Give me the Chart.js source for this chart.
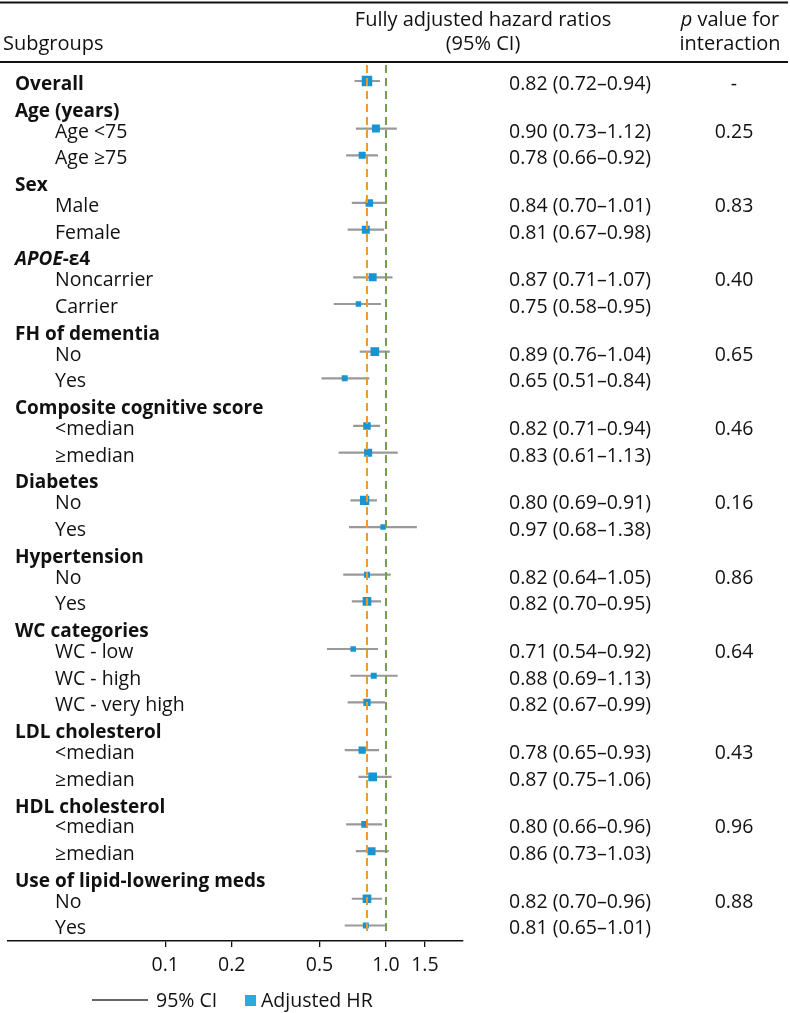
<!DOCTYPE html>
<html>
<head>
    <title>Subgroup hazard ratios</title>
    <style>
        html, body { margin: 0; padding: 0; background: #fff; }
        #wrap { position: relative; width: 790px; height: 1013px; }
    </style>
</head>
<body>
    <div id="wrap"><canvas id="forest"></canvas></div>

    <script src="https://cdn.jsdelivr.net/npm/chart.js"></script>
    <script>
        // table rows, top to bottom (1 = bold group row)
        const rowLabels = ['Overall', 'Age (years)', 'Age <75', 'Age ≥75', 'Sex', 'Male', 'Female',
            'APOE-ε4', 'Noncarrier', 'Carrier', 'FH of dementia', 'No', 'Yes',
            'Composite cognitive score', '<median', '≥median', 'Diabetes', 'No', 'Yes',
            'Hypertension', 'No', 'Yes', 'WC categories', 'WC - low', 'WC - high', 'WC - very high',
            'LDL cholesterol', '<median', '≥median', 'HDL cholesterol', '<median', '≥median',
            'Use of lipid-lowering meds', 'No', 'Yes'];
        const headerRow = [1, 1, 0, 0, 1, 0, 0, 1, 0, 0, 1, 0, 0, 1, 0, 0, 1, 0, 0,
            1, 0, 0, 1, 0, 0, 0, 1, 0, 0, 1, 0, 0, 1, 0, 0];

        const hr = [0.82, null, 0.90, 0.78, null, 0.84, 0.81, null, 0.87, 0.75, null, 0.89, 0.65,
            null, 0.82, 0.83, null, 0.80, 0.97, null, 0.82, 0.82, null, 0.71, 0.88, 0.82,
            null, 0.78, 0.87, null, 0.80, 0.86, null, 0.82, 0.81];
        const ciLow = [0.72, null, 0.73, 0.66, null, 0.70, 0.67, null, 0.71, 0.58, null, 0.76, 0.51,
            null, 0.71, 0.61, null, 0.69, 0.68, null, 0.64, 0.70, null, 0.54, 0.69, 0.67,
            null, 0.65, 0.75, null, 0.66, 0.73, null, 0.70, 0.65];
        const ciHigh = [0.94, null, 1.12, 0.92, null, 1.01, 0.98, null, 1.07, 0.95, null, 1.04, 0.84,
            null, 0.94, 1.13, null, 0.91, 1.38, null, 1.05, 0.95, null, 0.92, 1.13, 0.99,
            null, 0.93, 1.06, null, 0.96, 1.03, null, 0.96, 1.01];
        // relative weight of each estimate (box size read off the squares)
        const weight = [1.05, null, 0.8, 0.7, null, 0.75, 0.8, null, 0.8, 0.55, null, 0.87, 0.6,
            null, 0.75, 0.8, null, 0.93, 0.55, null, 0.6, 0.87, null, 0.55, 0.6, 0.73,
            null, 0.73, 0.87, null, 0.67, 0.8, null, 0.87, 0.6];
        const pInteraction = ['-', '', '0.25', '', '', '0.83', '', '', '0.40', '', '', '0.65', '',
            '', '0.46', '', '', '0.16', '', '', '0.86', '', '', '0.64', '', '',
            '', '0.43', '', '', '0.96', '', '', '0.88', ''];

        const tickValues = [0.1, 0.2, 0.5, 1.0, 1.5];
        const tickLabels = ['0.1', '0.2', '0.5', '1.0', '1.5'];

        const FONT = '"Open Sans"';
        const FS = 19.5;   // regular text
        const FB = 19;     // bold group labels
        const FH = 20;     // column headers

        // vertical position of each row: group rows sit a little closer to their first subgroup
        const rowY = [];
        rowLabels.forEach((_, i) => {
            if (i === 0) rowY.push(0);
            else rowY.push(rowY[i - 1] + (headerRow[i - 1] && !headerRow[i] ? 0.78 : 1));
        });
        const lastY = rowY[rowY.length - 1];

        const rows = rowLabels.map((_, i) => i).filter(i => hr[i] !== null);

        const ciData = [];
        rows.forEach(i => {
            ciData.push({ x: ciLow[i], y: rowY[i] }, { x: ciHigh[i], y: rowY[i] }, { x: null, y: null });
        });

        function refLine(v, color) {
            return {
                data: [{ x: v, y: -0.6 }, { x: v, y: lastY + 0.25 }],
                showLine: true, pointRadius: 0, borderColor: color, borderWidth: 2,
                borderDash: [8, 5], clip: false, order: 0
            };
        }

        const tablePlugin = {
            id: 'table',
            afterDraw(chart) {
                const ctx = chart.ctx;
                const ys = chart.scales.y;
                ctx.save();
                ctx.fillStyle = '#111';
                ctx.strokeStyle = '#111';

                // rules
                ctx.lineWidth = 2;
                ctx.beginPath();
                ctx.moveTo(0, 2.5); ctx.lineTo(788, 2.5);
                ctx.moveTo(0, 62); ctx.lineTo(788, 62);
                ctx.stroke();

                // column headers
                ctx.textBaseline = 'alphabetic';
                ctx.font = FH + 'px ' + FONT;
                ctx.textAlign = 'left';
                ctx.fillText('Subgroups', 3, 50);
                ctx.textAlign = 'center';
                ctx.fillText('Fully adjusted hazard ratios', 483, 26);
                ctx.fillText('(95% CI)', 483, 50);
                ctx.fillText('interaction', 730, 50);
                ctx.textAlign = 'left';
                ctx.font = 'italic ' + FH + 'px ' + FONT;
                const wp = ctx.measureText('p').width;
                ctx.font = FH + 'px ' + FONT;
                const wr = ctx.measureText(' value for').width;
                let x0 = 730 - (wp + wr) / 2;
                ctx.font = 'italic ' + FH + 'px ' + FONT;
                ctx.fillText('p', x0, 26);
                ctx.font = FH + 'px ' + FONT;
                ctx.fillText(' value for', x0 + wp, 26);

                // row texts
                rowLabels.forEach((lab, i) => {
                    const py = ys.getPixelForValue(rowY[i]) + 9;
                    ctx.textAlign = 'left';
                    if (headerRow[i]) {
                        if (lab === 'APOE-ε4') {
                            ctx.font = 'italic bold ' + FB + 'px ' + FONT;
                            ctx.fillText('APOE', 15, py);
                            const w = ctx.measureText('APOE').width;
                            ctx.font = 'bold ' + FB + 'px ' + FONT;
                            ctx.fillText('-ε4', 15 + w, py);
                        } else {
                            ctx.font = 'bold ' + FB + 'px ' + FONT;
                            ctx.fillText(lab, 15, py);
                        }
                    } else {
                        ctx.font = FS + 'px ' + FONT;
                        ctx.fillText(lab, 55, py);
                    }
                    ctx.font = FS + 'px ' + FONT;
                    if (hr[i] !== null) {
                        ctx.fillText(hr[i].toFixed(2) + ' (' + ciLow[i].toFixed(2) + '–' + ciHigh[i].toFixed(2) + ')', 509, py);
                    }
                    if (pInteraction[i]) {
                        ctx.textAlign = 'center';
                        ctx.fillText(pInteraction[i], 734, py);
                    }
                });

                // legend
                ctx.strokeStyle = '#333';
                ctx.lineWidth = 1.5;
                ctx.beginPath();
                ctx.moveTo(92, 1000); ctx.lineTo(148, 1000);
                ctx.stroke();
                ctx.textAlign = 'left';
                ctx.font = FS + 'px ' + FONT;
                ctx.fillText('95% CI', 156, 1007);
                ctx.fillStyle = '#29abe2';
                ctx.fillRect(245, 995, 11, 11);
                ctx.fillStyle = '#111';
                ctx.fillText('Adjusted HR', 261, 1007);
                ctx.restore();
            }
        };

        function draw() {
            new Chart(document.getElementById('forest'), {
                type: 'scatter',
                data: {
                    datasets: [
                        refLine(hr[0], '#f0992b'),
                        refLine(1.0, '#74a048'),
                        {
                            data: rows.map(i => ({ x: hr[i], y: rowY[i] })),
                            pointStyle: 'rect',
                            pointRadius: c => weight[rows[c.dataIndex]] * 10 / Math.SQRT2,
                            pointBorderWidth: 0,
                            backgroundColor: '#1795d2',
                            borderColor: '#1795d2',
                            order: 1
                        },
                        {
                            data: ciData,
                            showLine: true, spanGaps: false, pointRadius: 0,
                            borderColor: '#999999', borderWidth: 2.2, order: 2
                        }
                    ]
                },
                options: {
                    responsive: true,
                    maintainAspectRatio: false,
                    animation: false,
                    events: [],
                    layout: { padding: { left: 3, right: 327, top: 68, bottom: 42 } },
                    plugins: { legend: { display: false }, tooltip: { enabled: false } },
                    scales: {
                        x: {
                            type: 'logarithmic',
                            min: 0.01926,
                            max: 2.233,
                            bounds: 'data',
                            afterBuildTicks: s => { s.ticks = tickValues.map(v => ({ value: v })); },
                            afterFit: s => { s.height = 30; },
                            border: { display: true, color: '#111', width: 1.5 },
                            grid: { drawOnChartArea: false, drawTicks: true, tickLength: 6, color: '#111', lineWidth: 1.3 },
                            ticks: {
                                autoSkip: false, maxRotation: 0, padding: 7, color: '#111',
                                font: { family: FONT, size: FS },
                                callback: (v, i) => tickLabels[i]
                            }
                        },
                        y: {
                            type: 'linear',
                            reverse: true,
                            min: -0.486,
                            max: 32.16,
                            display: false
                        }
                    }
                },
                plugins: [tablePlugin]
            });
        }

        Promise.all([
            document.fonts.load(FS + 'px ' + FONT),
            document.fonts.load('bold ' + FB + 'px ' + FONT),
            document.fonts.load('italic ' + FH + 'px ' + FONT),
            document.fonts.load('italic bold ' + FB + 'px ' + FONT)
        ]).then(draw, draw);
    </script>
</body>
</html>
